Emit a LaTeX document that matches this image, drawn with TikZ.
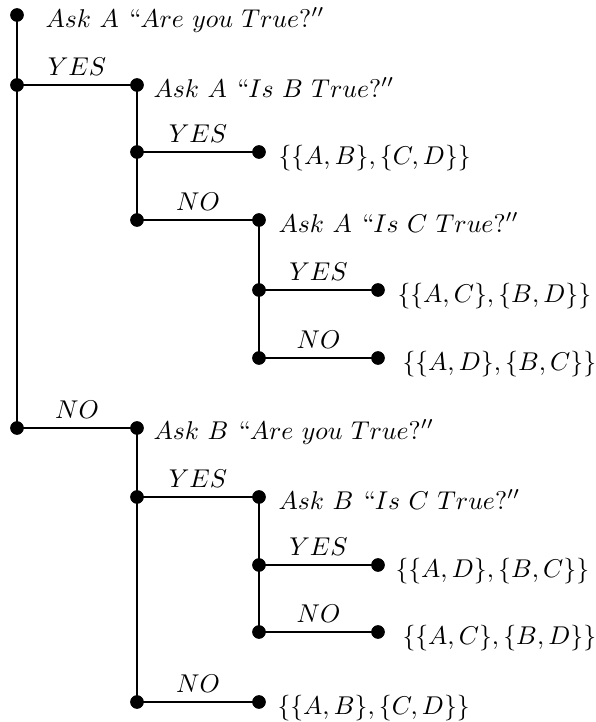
\documentclass[tikz,border=0pt]{standalone}
\begin{document}
\begin{tikzpicture}[x=0.3891pt, y=-0.3891pt,
  dot/.style={circle, fill=black, inner sep=0pt, minimum size=5.2pt},
  edge/.style={line width=0.95pt},
  txt/.style={anchor=base west, inner sep=0pt},
  lbl/.style={above, midway}]
\useasboundingbox (0,0) rectangle (595,722);
% dots
\node[dot] (r)   at (17,15) {};
\node[dot] (a1)  at (17,85) {};
\node[dot] (b1)  at (137,85) {};
\node[dot] (a2)  at (137,152) {};
\node[dot] (b2)  at (259,152) {};
\node[dot] (a3)  at (137,220) {};
\node[dot] (b3)  at (259,220) {};
\node[dot] (a4)  at (259,290) {};
\node[dot] (b4)  at (378,290) {};
\node[dot] (a5)  at (259,358) {};
\node[dot] (b5)  at (378,358) {};
\node[dot] (a6)  at (17,428) {};
\node[dot] (b6)  at (137,428) {};
\node[dot] (a7)  at (137,497) {};
\node[dot] (b7)  at (259,497) {};
\node[dot] (a8)  at (259,565) {};
\node[dot] (b8)  at (378,565) {};
\node[dot] (a9)  at (259,632) {};
\node[dot] (b9)  at (378,632) {};
\node[dot] (a10) at (137,702) {};
\node[dot] (b10) at (259,702) {};
% vertical lines
\draw[edge] (r.center) -- (a6.center);
\draw[edge] (b1.center) -- (a3.center);
\draw[edge] (b3.center) -- (a5.center);
\draw[edge] (b6.center) -- (a10.center);
\draw[edge] (b7.center) -- (a9.center);
% horizontal lines with labels
\draw[edge] (a1.center) -- node[lbl]{$YES$} (b1.center);
\draw[edge] (a2.center) -- node[lbl]{$YES$} (b2.center);
\draw[edge] (a3.center) -- node[lbl]{$NO$} (b3.center);
\draw[edge] (a4.center) -- node[lbl]{$YES$} (b4.center);
\draw[edge] (a5.center) -- node[lbl]{$NO$} (b5.center);
\draw[edge] (a6.center) -- node[lbl]{$NO$} (b6.center);
\draw[edge] (a7.center) -- node[lbl]{$YES$} (b7.center);
\draw[edge] (a8.center) -- node[lbl]{$YES$} (b8.center);
\draw[edge] (a9.center) -- node[lbl]{$NO$} (b9.center);
\draw[edge] (a10.center) -- node[lbl]{$NO$} (b10.center);
% texts
\node[txt] (t0)  at (45,27)   {$Ask\ A\ ``Are\ you\ True?''$};
\node[txt] (t1)  at (153,97)  {$Ask\ A\ ``Is\ B\ True?''$};
\node[txt] (t2)  at (278,164) {$\{\{A,B\},\{C,D\}\}$};
\node[txt] (t3)  at (278,232) {$Ask\ A\ ``Is\ C\ True?''$};
\node[txt] (t4)  at (397,302) {$\{\{A,C\},\{B,D\}\}$};
\node[txt] (t5)  at (402,370) {$\{\{A,D\},\{B,C\}\}$};
\node[txt] (t6)  at (153,439) {$Ask\ B\ ``Are\ you\ True?''$};
\node[txt] (t7)  at (278,509) {$Ask\ B\ ``Is\ C\ True?''$};
\node[txt] (t8)  at (395,577) {$\{\{A,D\},\{B,C\}\}$};
\node[txt] (t9)  at (402,644) {$\{\{A,C\},\{B,D\}\}$};
\node[txt] (t10) at (277,714) {$\{\{A,B\},\{C,D\}\}$};
% dots on top of the lines
\foreach \n in {r,a1,b1,a2,b2,a3,b3,a4,b4,a5,b5,a6,b6,a7,b7,a8,b8,a9,b9,a10,b10}
  \fill (\n.center) circle (2.6pt);
\end{tikzpicture}
\end{document}
